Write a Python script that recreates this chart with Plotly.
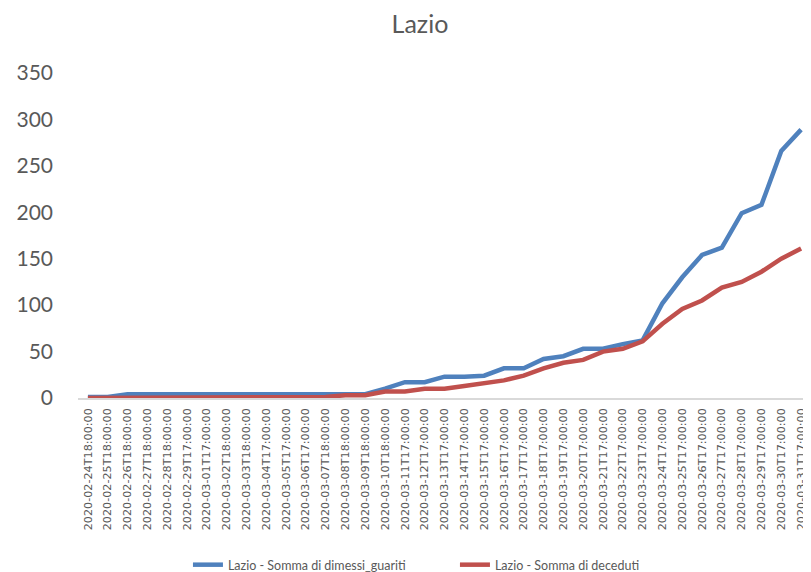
import plotly.graph_objects as go

dates = [
    "2020-02-24T18:00:00", "2020-02-25T18:00:00", "2020-02-26T18:00:00",
    "2020-02-27T18:00:00", "2020-02-28T18:00:00", "2020-02-29T17:00:00",
    "2020-03-01T17:00:00", "2020-03-02T18:00:00", "2020-03-03T18:00:00",
    "2020-03-04T17:00:00", "2020-03-05T17:00:00", "2020-03-06T17:00:00",
    "2020-03-07T18:00:00", "2020-03-08T18:00:00", "2020-03-09T18:00:00",
    "2020-03-10T18:00:00", "2020-03-11T17:00:00", "2020-03-12T17:00:00",
    "2020-03-13T17:00:00", "2020-03-14T17:00:00", "2020-03-15T17:00:00",
    "2020-03-16T17:00:00", "2020-03-17T17:00:00", "2020-03-18T17:00:00",
    "2020-03-19T17:00:00", "2020-03-20T17:00:00", "2020-03-21T17:00:00",
    "2020-03-22T17:00:00", "2020-03-23T17:00:00", "2020-03-24T17:00:00",
    "2020-03-25T17:00:00", "2020-03-26T17:00:00", "2020-03-27T17:00:00",
    "2020-03-28T17:00:00", "2020-03-29T17:00:00", "2020-03-30T17:00:00",
    "2020-03-31T17:00:00",
]

dimessi_guariti = [1, 1, 4, 4, 4, 4, 4, 4, 4, 4, 4, 4, 4, 4, 4,
                   10, 17, 17, 23, 23, 24, 32, 32, 42, 45, 53, 53,
                   58, 62, 102, 130, 154, 162, 199, 208, 266, 289]

deceduti = [0, 0, 0, 0, 0, 0, 0, 0, 0, 0, 0, 1, 1, 3, 3,
            7, 7, 10, 10, 13, 16, 19, 24, 32, 38, 41, 50,
            53, 61, 80, 96, 105, 119, 125, 136, 150, 161]

y_ticks = [0, 50, 100, 150, 200, 250, 300, 350]

name_guariti = "Lazio - Somma di dimessi_guariti"
name_deceduti = "Lazio - Somma di deceduti"

FONT = "Lato"
GREY = "#595959"

fig = go.Figure()
fig.add_trace(go.Scatter(
    x=dates, y=dimessi_guariti, mode="lines", name=name_guariti,
    line=dict(color="#4F81BD", width=4.5, shape="linear"),
))
fig.add_trace(go.Scatter(
    x=dates, y=deceduti, mode="lines", name=name_deceduti,
    line=dict(color="#C0504D", width=4.5, shape="linear"),
))

# the page body has an 8px default margin, so the figure is drawn at (8, 8)
fig.update_layout(
    width=803, height=564,
    margin=dict(l=70, r=0, t=65, b=174, pad=0, autoexpand=False),
    paper_bgcolor="white", plot_bgcolor="white",
    font=dict(family=FONT, color=GREY),
    title=dict(text="Lazio", x=0.513, xanchor="center", y=0.972, yanchor="middle",
               yref="container", automargin=False,
               font=dict(family=FONT, size=25, color=GREY)),
    showlegend=True,
    legend=dict(orientation="h", x=0.150, xanchor="left", y=-0.514, yanchor="middle",
                font=dict(family=FONT, size=12.5, color=GREY),
                entrywidth=222, entrywidthmode="pixels",
                bgcolor="rgba(0,0,0,0)"),
    xaxis=dict(
        type="category", categoryorder="array", categoryarray=dates,
        range=[-0.5, len(dates) - 0.5], automargin=False,
        showgrid=False, zeroline=False,
        showline=True, linecolor="#D9D9D9", linewidth=1.5,
        ticks="", tickangle=-90, ticklabelstandoff=4,
        tickfont=dict(family="DejaVu Sans", size=11.2, color=GREY),
        fixedrange=True,
    ),
    yaxis=dict(
        range=[0, 350], tickvals=y_ticks, ticktext=[str(v) for v in y_ticks],
        automargin=False,
        showgrid=False, zeroline=False, showline=False,
        ticks="", ticklabelstandoff=24,
        tickfont=dict(family=FONT, size=21, color=GREY),
        fixedrange=True,
    ),
)

fig.write_html("out.html")
